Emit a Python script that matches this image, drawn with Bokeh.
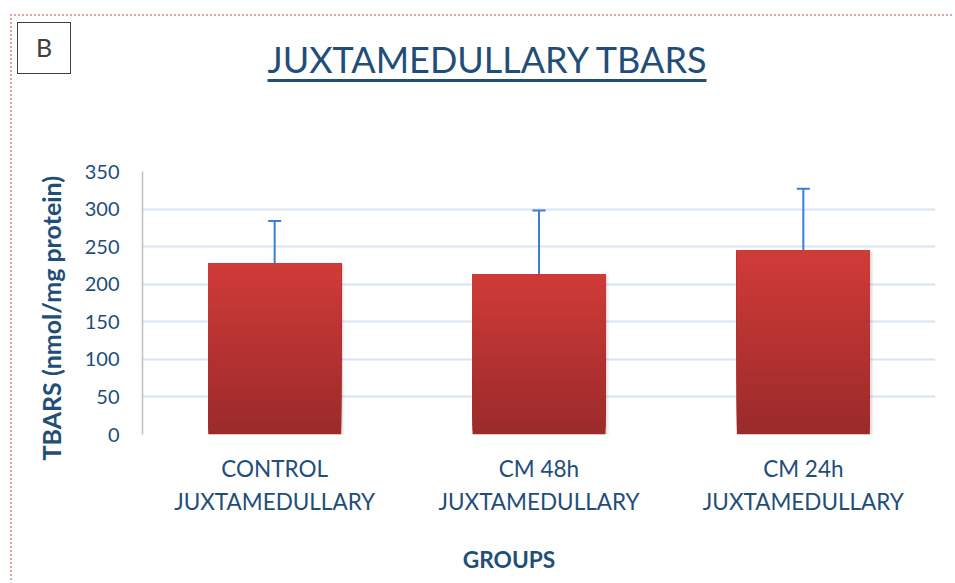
from bokeh.plotting import figure
from bokeh.layouts import column
from bokeh.models import (ColumnDataSource, FactorRange, Whisker, TeeHead, Title,
                          FixedTicker, Div)
from bokeh.transform import dodge
from bokeh.embed import file_html
from bokeh.resources import INLINE

# ---- data ----
groups = ["CONTROL\nJUXTAMEDULLARY", "CM 48h\nJUXTAMEDULLARY", "CM 24h\nJUXTAMEDULLARY"]
tbars_mean = [228, 213, 245]
tbars_err = [56, 85, 82]
y_ticks = [0, 50, 100, 150, 200, 250, 300, 350]

title_text = "JUXTAMEDULLARY TBARS"
y_title = "TBARS (nmol/mg protein)"
x_title = "GROUPS"
panel_letter = "B"

TXT = "#1F4E79"
FONT = "Lato"
BORDER = "2px dotted #E8A0A0"

# layout geometry (page px): content starts at (12, 16) after margin + border
OX, OY = 12, 16
W = 940
HEAD_H = 120
FL, FR, FT, FB = 142, 935, 171, 434   # frame edges on the page
BOTTOM = 90
fig_top = OY + HEAD_H
FIG_H = FB - fig_top + BOTTOM
FOOT_H = 56
foot_top = fig_top + FIG_H

header_html = (
    f'<div style="position:relative;width:{W}px;height:{HEAD_H}px;font-family:{FONT};">'
    f'<div style="position:absolute;left:{17 - OX}px;top:{22 - OY}px;width:54px;height:52px;'
    f'box-sizing:border-box;border:1.5px solid #404040;display:flex;align-items:center;'
    f'justify-content:center;font-size:25px;color:#404040;">{panel_letter}</div>'
    f'<div style="position:absolute;left:{487 - OX}px;top:{41 - OY}px;transform:translateX(-50%);'
    f'font-size:36px;line-height:36px;white-space:nowrap;color:{TXT};'
    f'text-decoration:underline;text-decoration-thickness:2.5px;'
    f'text-underline-offset:6px;">{title_text}</div>'
    f'</div>'
)
header = Div(text=header_html, width=W, height=HEAD_H, margin=(0, 0, 0, 0))

footer_html = (
    f'<div style="position:relative;width:{W}px;height:{FOOT_H}px;font-family:{FONT};">'
    f'<div style="position:absolute;left:{509 - OX}px;top:{560 - foot_top}px;'
    f'transform:translate(-50%,-50%);font-size:22.7px;font-weight:bold;line-height:1;'
    f'white-space:nowrap;color:{TXT};">{x_title}</div>'
    f'</div>'
)
footer = Div(text=footer_html, width=W, height=FOOT_H, margin=(0, 0, 0, 0))

p = figure(width=W, height=FIG_H, x_range=FactorRange(*groups), y_range=(0, 350),
           output_backend="svg", toolbar_location=None,
           min_border_left=FL - OX, min_border_right=OX + W - FR,
           min_border_top=FT - fig_top, min_border_bottom=BOTTOM,
           margin=(0, 0, 0, 0))
p.outline_line_color = None
p.background_fill_color = "white"
p.border_fill_color = "white"

BAR_W = 0.503

# soft shadow to the right of each bar
for off, alpha in ((0.013, 0.05), (0.007, 0.08)):
    p.vbar(x=dodge("x", off, range=p.x_range), top="top", bottom=0, width=BAR_W,
           source=ColumnDataSource(dict(x=groups, top=[v - 1.5 for v in tbars_mean])),
           fill_color="black", fill_alpha=alpha, line_color=None)

# gradient bars built from overlapping slices of each value
N = 40
top_c = (0xD0, 0x3B, 0x38)
bot_c = (0x9A, 0x2A, 0x2A)
xs, bots, tops, cols = [], [], [], []
for i in range(N):
    t = (i + 0.5) / N
    c = tuple(int(round(bot_c[k] + (top_c[k] - bot_c[k]) * t)) for k in range(3))
    for g, v in zip(groups, tbars_mean):
        xs.append(g)
        bots.append(v * i / N)
        tops.append(v)
        cols.append("#%02x%02x%02x" % c)
src = ColumnDataSource(dict(x=xs, bottom=bots, top=tops, color=cols))
p.vbar(x="x", bottom="bottom", top="top", width=BAR_W, source=src,
       fill_color="color", line_color=None)

# error bars (upper only)
esrc = ColumnDataSource(dict(x=groups, lower=tbars_mean,
                             upper=[m + e for m, e in zip(tbars_mean, tbars_err)]))
wh = Whisker(base="x", lower="lower", upper="upper", source=esrc,
             line_color="#3B7DD8", line_width=2, lower_head=None,
             upper_head=TeeHead(size=13, line_color="#3B7DD8", line_width=2))
p.add_layout(wh)

# axes
p.yaxis.ticker = FixedTicker(ticks=y_ticks)
p.yaxis.axis_line_color = "#BFBFBF"
p.yaxis.axis_line_width = 1.5
p.yaxis.major_tick_line_color = None
p.yaxis.minor_tick_line_color = None
p.yaxis.major_tick_out = 0
p.yaxis.major_label_standoff = 23
p.yaxis.major_label_text_font = FONT
p.yaxis.major_label_text_font_size = "20px"
p.yaxis.major_label_text_color = TXT

p.xaxis.axis_line_color = None
p.xaxis.major_tick_line_color = None
p.xaxis.major_tick_out = 0
p.xaxis.major_label_standoff = 20
p.xaxis.major_label_text_font = FONT
p.xaxis.major_label_text_font_size = "22.5px"
p.xaxis.major_label_text_color = TXT
p.xaxis.major_label_text_line_height = 1.25

p.xgrid.grid_line_color = None
p.ygrid.grid_line_color = "#D9E3F3"
p.ygrid.grid_line_width = 2

# y axis title
p.add_layout(Title(text=y_title, align="left", offset=-26, standoff=31,
                   text_font=FONT, text_font_size="25px", text_font_style="bold",
                   text_color=TXT), "left")

layout = column(header, p, footer, spacing=0, margin=(14, 0, 0, 10),
                styles={"border-top": BORDER, "border-left": BORDER,
                        "background-color": "white"})

open("out.html", "w").write(file_html(layout, INLINE))
